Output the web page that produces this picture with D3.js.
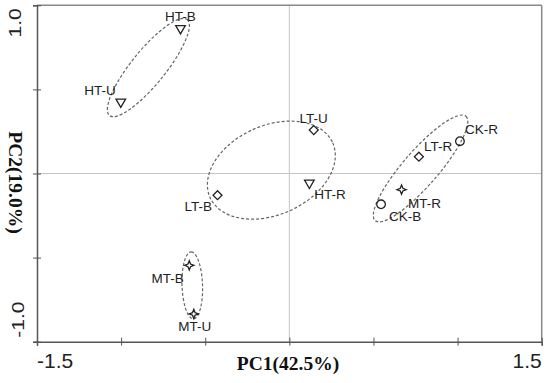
<!DOCTYPE html>
<html>
<head>
<meta charset="utf-8">
<script src="https://cdn.jsdelivr.net/npm/d3@7"></script>
<style>
  body { margin: 0; background: #fff; }
  svg { display: block; }
</style>
</head>
<body>
<div id="chart"></div>
<script>
// sample scores
const sampleNames = ["HT-B", "HT-U", "LT-U", "HT-R", "LT-B", "CK-R", "LT-R", "MT-R", "CK-B", "MT-B", "MT-U"];
const pc1 = [-0.647, -1.002, 0.145, 0.119, -0.427, 1.014, 0.770, 0.667, 0.545, -0.595, -0.568];
const pc2 = [0.863, 0.426, 0.258, -0.056, -0.129, 0.192, 0.100, -0.096, -0.183, -0.546, -0.835];
const markerType = ["tri", "tri", "diamond", "tri", "diamond", "circle", "diamond", "star", "circle", "star", "star"];

// group ellipses: center pc1, center pc2, semi-major, semi-minor, angle (deg)
const ellipseNames = ["HT", "LT", "CK", "MT"];
const ellipseCx = [-0.838, -0.107, 0.780, -0.577];
const ellipseCy = [0.630, 0.020, 0.030, -0.665];
const ellipseA = [0.367, 0.399, 0.411, 0.199];
const ellipseB = [0.101, 0.265, 0.104, 0.061];
const ellipseAngle = [51, 24, 49, 92];

const xTicks = [-1.5, -1.0, -0.5, 0, 0.5, 1.0, 1.5];
const yTicks = [-1.0, -0.5, 0, 0.5, 1.0];
const xTitle = "PC1(42.5%)";
const yTitle = "PC2(19.0%)";

// label placement next to each marker (px)
const labelPos = {
    "HT-B": {dx: 0, dy: -7, anchor: "middle"},
    "HT-U": {dx: -5, dy: -6.5, anchor: "end"},
    "LT-U": {dx: 0, dy: -7.5, anchor: "middle"},
    "HT-R": {dx: 5, dy: 16.5, anchor: "start"},
    "LT-B": {dx: -5.5, dy: 16, anchor: "end"},
    "CK-R": {dx: 5, dy: -7.5, anchor: "start"},
    "LT-R": {dx: 5, dy: -6, anchor: "start"},
    "MT-R": {dx: 6.5, dy: 18.5, anchor: "start"},
    "CK-B": {dx: 8, dy: 17, anchor: "start"},
    "MT-B": {dx: -5.5, dy: 18, anchor: "end"},
    "MT-U": {dx: 1, dy: 17.5, anchor: "middle"}
};

const W = 550, H = 383;
const margin = {top: 5.3, right: 8.3, bottom: 41.3, left: 37};
const width = W - margin.left - margin.right;
const height = H - margin.top - margin.bottom;

const svg = d3.select("#chart").append("svg")
    .attr("width", W)
    .attr("height", H);

const g = svg.append("g")
    .attr("transform", `translate(${margin.left},${margin.top})`);

const x = d3.scaleLinear().domain([-1.5, 1.5]).range([0, width]);
const y = d3.scaleLinear().domain([-1.0, 1.0]).range([height, 0]);

// zero lines
g.append("line")
    .attr("x1", x(0)).attr("x2", x(0))
    .attr("y1", 0).attr("y2", height)
    .attr("stroke", "#c4c4c4").attr("stroke-width", 1);
g.append("line")
    .attr("x1", 0).attr("x2", width)
    .attr("y1", y(0)).attr("y2", y(0))
    .attr("stroke", "#c4c4c4").attr("stroke-width", 1);

// frame
g.append("line").attr("x1", 0).attr("x2", width).attr("y1", 0).attr("y2", 0)
    .attr("stroke", "#888").attr("stroke-width", 1.5);
g.append("line").attr("x1", width).attr("x2", width).attr("y1", 0).attr("y2", height)
    .attr("stroke", "#888").attr("stroke-width", 1.5);

// axes with ticks crossing the line
const xAxis = g.append("g")
    .attr("transform", `translate(0,${height})`)
    .call(d3.axisBottom(x).tickValues(xTicks).tickSize(4).tickFormat(""));
const yAxis = g.append("g")
    .call(d3.axisLeft(y).tickValues(yTicks).tickSize(4).tickFormat(""));

[xAxis, yAxis].forEach(function (ax) {
    ax.select(".domain").attr("stroke", "#555").attr("stroke-width", 1.5);
    ax.selectAll(".tick line").attr("stroke", "#555").attr("stroke-width", 1);
});
xAxis.selectAll(".tick line").attr("y1", -4);
yAxis.selectAll(".tick line").attr("x1", 4);

// end tick labels only
const tickFont = "'Liberation Sans', Arial, sans-serif";
g.append("text")
    .attr("x", x(xTicks[0]))
    .attr("y", height + 26.5)
    .attr("text-anchor", "start")
    .style("font-family", tickFont).style("font-size", "21px").attr("fill", "#222")
    .text(xTicks[0].toFixed(1));
g.append("text")
    .attr("x", x(xTicks[xTicks.length - 1]))
    .attr("y", height + 26.5)
    .attr("text-anchor", "end")
    .style("font-family", tickFont).style("font-size", "21px").attr("fill", "#222")
    .text(xTicks[xTicks.length - 1].toFixed(1));
g.append("text")
    .attr("transform", `translate(${-16},${y(yTicks[yTicks.length - 1]) + 3}) rotate(-90) scale(1,0.8)`)
    .attr("text-anchor", "end")
    .style("font-family", tickFont).style("font-size", "21px").attr("fill", "#222")
    .text(yTicks[yTicks.length - 1].toFixed(1));
g.append("text")
    .attr("transform", `translate(${-13},${y(yTicks[0]) - 4}) rotate(-90) scale(1,0.8)`)
    .attr("text-anchor", "start")
    .style("font-family", tickFont).style("font-size", "21px").attr("fill", "#222")
    .text(yTicks[0].toFixed(1));

// axis titles
const titleFont = "'Liberation Serif', 'Times New Roman', serif";
svg.append("text")
    .attr("x", 288)
    .attr("y", 369.5)
    .attr("text-anchor", "middle")
    .style("font-family", titleFont).style("font-size", "19.5px").style("font-weight", "bold")
    .attr("fill", "#111")
    .text(xTitle);
svg.append("text")
    .attr("transform", `translate(8.5,182.5) rotate(90)`)
    .attr("text-anchor", "middle")
    .style("font-family", titleFont).style("font-size", "19.5px").style("font-weight", "bold")
    .attr("fill", "#111")
    .text(yTitle);

// confidence ellipses
const pxPerUnit = x(1) - x(0);
ellipseNames.forEach(function (e, i) {
    g.append("ellipse")
        .attr("cx", 0).attr("cy", 0)
        .attr("rx", ellipseA[i] * pxPerUnit)
        .attr("ry", ellipseB[i] * pxPerUnit)
        .attr("transform", `translate(${x(ellipseCx[i])},${y(ellipseCy[i])}) rotate(${-ellipseAngle[i]})`)
        .attr("fill", "none")
        .attr("stroke", "#666")
        .attr("stroke-width", 1.2)
        .attr("stroke-dasharray", "3,2");
});

// four pointed star
const star4 = {
    draw(context, size) {
        const r = Math.sqrt(size) * 0.75;
        const ri = r * 0.4;
        for (let k = 0; k < 8; k++) {
            const a = Math.PI / 2 + k * Math.PI / 4;
            const rr = k % 2 === 0 ? r : ri;
            const px = Math.cos(a) * rr, py = -Math.sin(a) * rr;
            if (k === 0) context.moveTo(px, py); else context.lineTo(px, py);
        }
        context.closePath();
    }
};

const shapes = {
    tri: {type: d3.symbolTriangle, size: 40, rot: 180},
    diamond: {type: d3.symbolSquare, size: 40, rot: 45},
    circle: {type: d3.symbolCircle, size: 58, rot: 0},
    star: {type: star4, size: 38, rot: 0}
};

sampleNames.forEach(function (name, i) {
    const s = shapes[markerType[i]];
    const cx = x(pc1[i]), cy = y(pc2[i]);
    g.append("path")
        .attr("d", d3.symbol().type(s.type).size(s.size)())
        .attr("transform", `translate(${cx},${cy}) rotate(${s.rot})`)
        .attr("fill", "none")
        .attr("stroke", "#222")
        .attr("stroke-width", 1.3);

    const lp = labelPos[name];
    g.append("text")
        .attr("x", cx + lp.dx)
        .attr("y", cy + lp.dy)
        .attr("text-anchor", lp.anchor)
        .style("font-family", tickFont)
        .style("font-size", "13.5px")
        .attr("fill", "#222")
        .text(name);
});
</script>
</body>
</html>
